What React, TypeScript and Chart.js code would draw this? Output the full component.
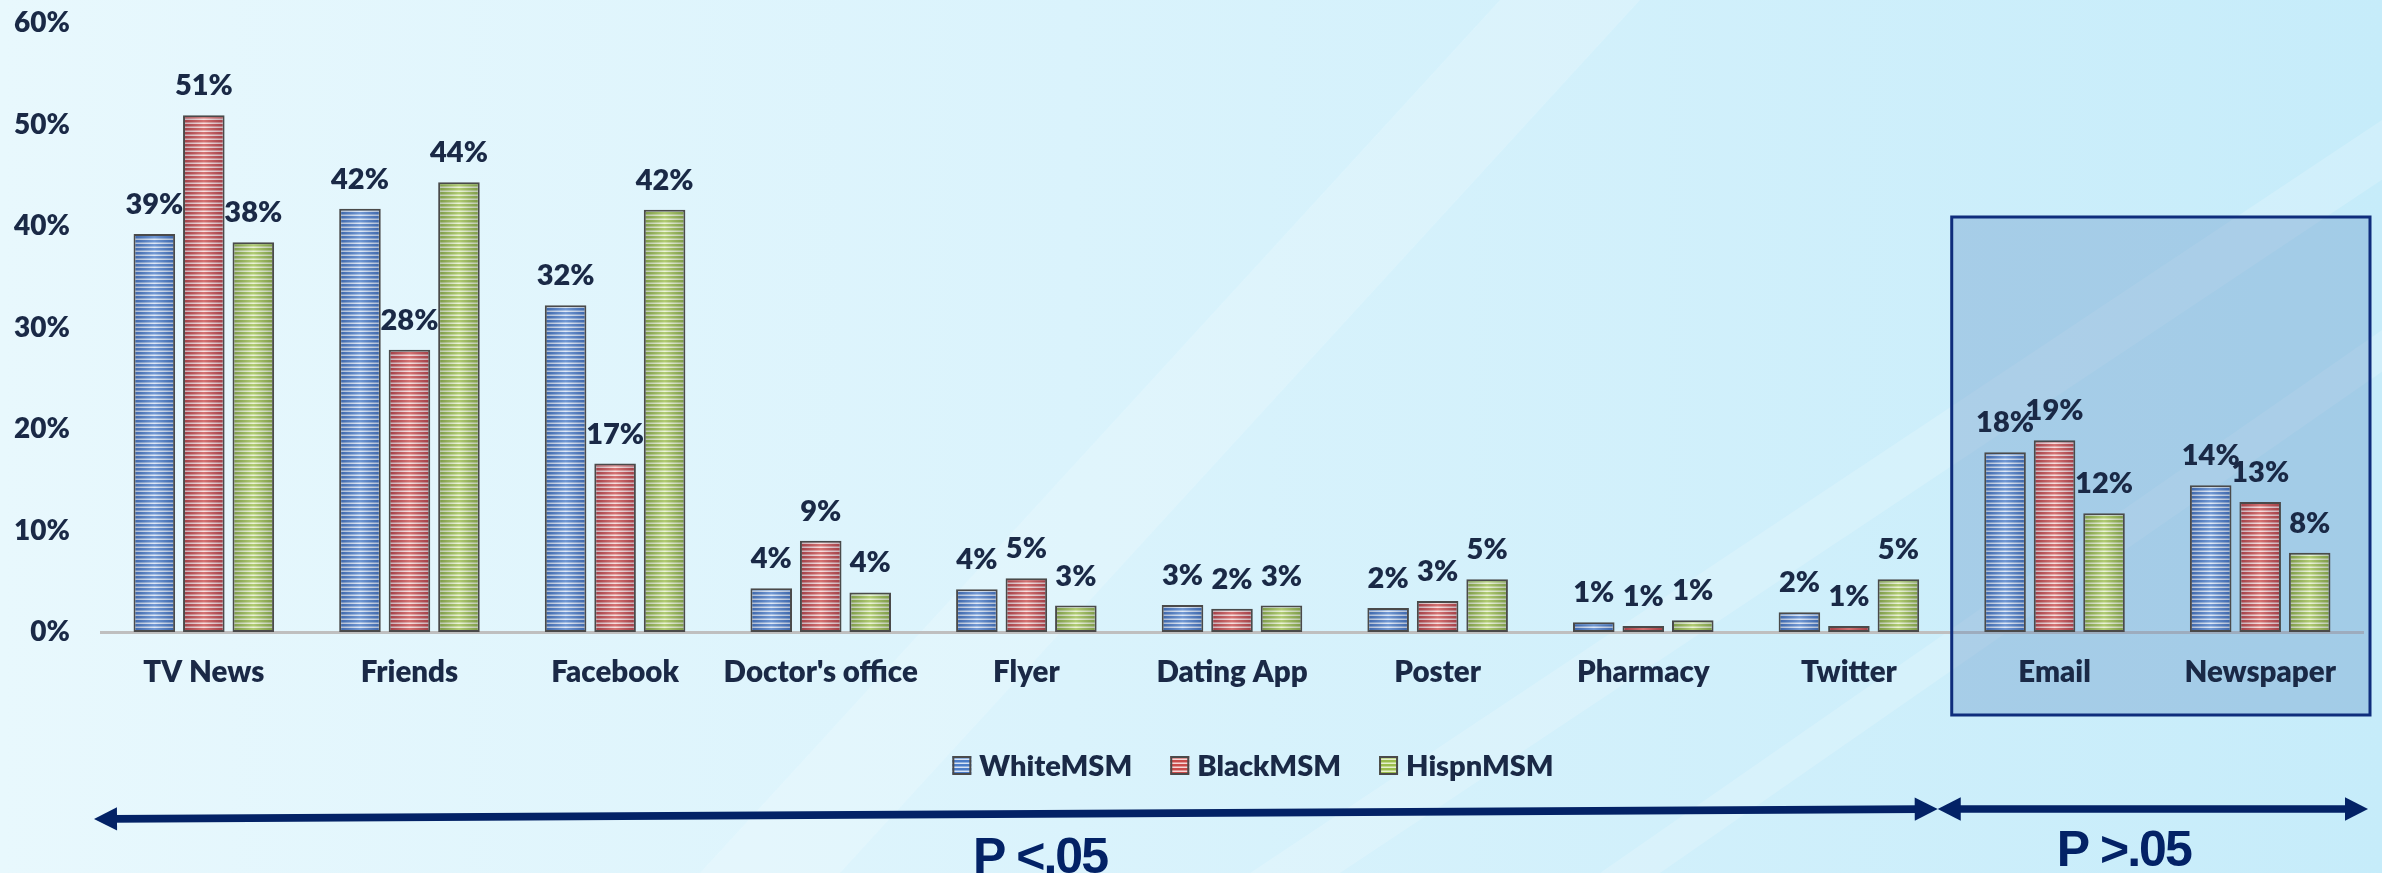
import React, { useEffect, useRef } from "react";
import { Chart, registerables } from "chart.js";

Chart.register(...registerables);

// ---------------- data ----------------
const categories = [
  "TV News",
  "Friends",
  "Facebook",
  "Doctor's office",
  "Flyer",
  "Dating App",
  "Poster",
  "Pharmacy",
  "Twitter",
  "Email",
  "Newspaper",
];
const whiteMSM = [39.2, 41.7, 32.2, 4.3, 4.2, 2.66, 2.36, 0.96, 1.95, 17.7, 14.45];
const blackMSM = [50.9, 27.8, 16.6, 9.0, 5.3, 2.3, 3.05, 0.58, 0.6, 18.9, 12.8];
const hispnMSM = [38.4, 44.3, 41.6, 3.9, 2.6, 2.6, 5.2, 1.16, 5.2, 11.7, 7.8];
const seriesNames = ["WhiteMSM", "BlackMSM", "HispnMSM"];
const yMin = 0;
const yMax = 60;
const yStep = 10;
const significantLabel = "P <.05";
const nonSignificantLabel = "P >.05";
const firstNonSignificantIndex = 9;

// ---------------- styles ----------------
const TEXT = "#1a2946";
const NAVY = "#032266";
const FONT = "Lato, 'Open Sans', sans-serif";
const WEIGHT = 800;
const stripeColors = [
  { dark: "#4b7cc7", mid: "#8fb0de", light: "#d6e3f5" },
  { dark: "#c94b4a", mid: "#e09594", light: "#f7d6d6" },
  { dark: "#9bbd4c", mid: "#c2d88f", light: "#e6f0cc" },
];

function stripePattern(c: { dark: string; mid: string; light: string }) {
  const cv = document.createElement("canvas");
  cv.width = 4;
  cv.height = 4;
  const g = cv.getContext("2d")!;
  g.fillStyle = c.dark;
  g.fillRect(0, 0, 4, 2);
  g.fillStyle = c.mid;
  g.fillRect(0, 2, 4, 1);
  g.fillStyle = c.light;
  g.fillRect(0, 3, 4, 1);
  const ctx = document.createElement("canvas").getContext("2d")!;
  return ctx.createPattern(cv, "repeat")!;
}

const backgroundPlugin = {
  id: "bg",
  beforeDraw(chart: any) {
    const { ctx, width, height } = chart;
    ctx.save();
    const g = ctx.createLinearGradient(0, 0, width, 0);
    g.addColorStop(0, "#e8f8fd");
    g.addColorStop(0.45, "#daf3fc");
    g.addColorStop(1, "#c6ecfa");
    ctx.fillStyle = g;
    ctx.fillRect(0, 0, width, height);
    // faint diagonal streaks
    const streaks = [
      [700, 873, 1500, 0, 140],
      [1250, 873, 2382, 120, 90],
      [1600, 873, 2382, 330, 60],
    ];
    streaks.forEach(([x1, y1, x2, y2, w]) => {
      ctx.beginPath();
      ctx.moveTo(x1, y1);
      ctx.lineTo(x2, y2);
      ctx.lineTo(x2 + w, y2);
      ctx.lineTo(x1 + w, y1);
      ctx.closePath();
      ctx.fillStyle = "rgba(255,255,255,0.18)";
      ctx.fill();
    });
    ctx.restore();
  },
};

const boxPlugin = {
  id: "nsBox",
  beforeDatasetsDraw(chart: any) {
    const { ctx, chartArea } = chart;
    const xs = chart.scales.x;
    const left = xs.getPixelForValue(firstNonSignificantIndex - 0.5);
    const right = chartArea.right + 7;
    const top = chartArea.top + 194;
    const bottom = chartArea.bottom + 83;
    ctx.save();
    ctx.fillStyle = "rgba(79,129,189,0.30)";
    ctx.fillRect(left, top, right - left, bottom - top);
    ctx.strokeStyle = "#0f2d7c";
    ctx.lineWidth = 3;
    ctx.strokeRect(left, top, right - left, bottom - top);
    ctx.restore();
  },
};

const barDecorPlugin = {
  id: "barDecor",
  afterDatasetsDraw(chart: any) {
    const { ctx } = chart;
    ctx.save();
    chart.data.datasets.forEach((ds: any, di: number) => {
      const meta = chart.getDatasetMeta(di);
      meta.data.forEach((el: any, i: number) => {
        const { x, y, base, width } = el.getProps(["x", "y", "base", "width"], true);
        const l = x - width / 2 + 2;
        const r = x + width / 2 - 2;
        const t = y + 2;
        const b = base - 2;
        if (b > t) {
          const g = ctx.createLinearGradient(l, 0, r, 0);
          g.addColorStop(0, "rgba(20,30,70,0.20)");
          g.addColorStop(0.5, "rgba(255,255,255,0.22)");
          g.addColorStop(1, "rgba(20,30,70,0.20)");
          ctx.fillStyle = g;
          ctx.fillRect(l, t, r - l, b - t);
        }
        ctx.fillStyle = TEXT;
        ctx.font = `${WEIGHT} 29px ${FONT}`;
        ctx.textAlign = "center";
        ctx.textBaseline = "alphabetic";
        ctx.fillText(Math.round(ds.data[i]) + "%", x, y - 20);
      });
    });
    ctx.restore();
  },
};

function arrowHead(ctx: CanvasRenderingContext2D, tipX: number, tipY: number, dirX: number, dirY: number) {
  const len = 23;
  const half = 11.7;
  const n = Math.hypot(dirX, dirY);
  const ux = dirX / n;
  const uy = dirY / n;
  const bx = tipX - ux * len;
  const by = tipY - uy * len;
  ctx.beginPath();
  ctx.moveTo(tipX, tipY);
  ctx.lineTo(bx - uy * half, by + ux * half);
  ctx.lineTo(bx + uy * half, by - ux * half);
  ctx.closePath();
  ctx.fill();
}

const overlayPlugin = {
  id: "overlay",
  afterDraw(chart: any) {
    const { ctx, chartArea } = chart;
    const xs = chart.scales.x;
    ctx.save();
    // legend
    ctx.font = `${WEIGHT} 29px ${FONT}`;
    ctx.textBaseline = "middle";
    ctx.textAlign = "left";
    const box = 19;
    const gapText = 8;
    const gapItem = 38;
    const widths = seriesNames.map((s) => ctx.measureText(s).width);
    const total = widths.reduce((a, w) => a + box + gapText + w, 0) + gapItem * (seriesNames.length - 1);
    const cx = (chartArea.left + chartArea.right) / 2 + 21;
    const ly = chartArea.bottom + 133.5;
    let lx = cx - total / 2;
    seriesNames.forEach((s, i) => {
      ctx.fillStyle = chart.data.datasets[i].backgroundColor;
      ctx.fillRect(lx, ly - box / 2, box, box);
      ctx.strokeStyle = "#4a4a4a";
      ctx.lineWidth = 2;
      ctx.strokeRect(lx + 1, ly - box / 2 + 1, box - 2, box - 2);
      ctx.fillStyle = TEXT;
      ctx.fillText(s, lx + box + gapText, ly + 1);
      lx += box + gapText + widths[i] + gapItem;
    });

    // arrows
    const mid = xs.getPixelForValue(firstNonSignificantIndex - 0.5) - 14;
    const x0 = chartArea.left - 7;
    const x1 = chartArea.right + 5;
    const yL = chartArea.bottom + 187;
    const yR = chartArea.bottom + 177;
    ctx.strokeStyle = NAVY;
    ctx.fillStyle = NAVY;
    ctx.lineWidth = 7.7;
    ctx.beginPath();
    ctx.moveTo(x0 + 18, yL - (18 * (yL - yR)) / (mid - x0));
    ctx.lineTo(mid - 18, yR + (18 * (yL - yR)) / (mid - x0));
    ctx.stroke();
    arrowHead(ctx, x0, yL, -(mid - x0), yL - yR);
    arrowHead(ctx, mid, yR, mid - x0, yR - yL);
    ctx.beginPath();
    ctx.moveTo(mid + 18, yR);
    ctx.lineTo(x1 - 18, yR);
    ctx.stroke();
    arrowHead(ctx, mid, yR, -1, 0);
    arrowHead(ctx, x1, yR, 1, 0);

    // P labels
    ctx.font = "bold 50px 'Liberation Sans', Arial, sans-serif";
    (ctx as any).letterSpacing = "-2px";
    ctx.textAlign = "center";
    ctx.textBaseline = "alphabetic";
    ctx.fillText(significantLabel, 1040 - (101 - chartArea.left), chartArea.bottom + 241);
    ctx.fillText(nonSignificantLabel, mid + 186, chartArea.bottom + 234);
    ctx.restore();
  },
};

export default function App() {
  const ref = useRef<HTMLCanvasElement>(null);
  useEffect(() => {
    if (!ref.current) return;
    const patterns = stripeColors.map(stripePattern);
    const seriesData = [whiteMSM, blackMSM, hispnMSM];
    const chart = new Chart(ref.current, {
      type: "bar",
      data: {
        labels: categories,
        datasets: seriesNames.map((name, i) => ({
          label: name,
          data: seriesData[i],
          backgroundColor: patterns[i] as any,
          borderColor: "#4a4a4a",
          borderWidth: 2,
          borderSkipped: false,
          categoryPercentage: 0.722,
          barPercentage: 0.84,
        })),
      },
      options: {
        responsive: false,
        animation: false,
        devicePixelRatio: 1,
        layout: { padding: { top: 23, right: 19, bottom: 0, left: 0 } },
        plugins: {
          legend: { display: false },
          tooltip: { enabled: false },
          title: { display: false },
        },
        scales: {
          x: {
            grid: { display: false, drawTicks: false },
            border: { display: true, color: "#bfbfbf", width: 3 },
            ticks: {
              color: TEXT,
              font: { family: FONT, weight: WEIGHT, size: 29.5 },
              padding: 23,
              maxRotation: 0,
              autoSkip: false,
              z: 1,
            },
            afterFit(scale: any) {
              scale.height = 241;
              scale.paddingLeft = 0;
              scale.paddingRight = 0;
            },
          },
          y: {
            min: yMin,
            max: yMax,
            grid: { display: false, drawTicks: false },
            border: { display: false },
            ticks: {
              stepSize: yStep,
              color: TEXT,
              font: { family: FONT, weight: WEIGHT, size: 28 },
              padding: 31,
              callback: (v: any) => v + "%",
            },
            afterFit(scale: any) {
              scale.width = 101;
              scale.paddingTop = 0;
              scale.paddingBottom = 0;
            },
          },
        },
      } as any,
      plugins: [backgroundPlugin, boxPlugin, barDecorPlugin, overlayPlugin],
    });
    return () => chart.destroy();
  }, []);
  return (
    <div style={{ position: "fixed", left: 0, top: 0, width: 2382, height: 873, overflow: "hidden" }}>
      <canvas ref={ref} width={2382} height={873} style={{ display: "block", width: 2382, height: 873 }} />
    </div>
  );
}
